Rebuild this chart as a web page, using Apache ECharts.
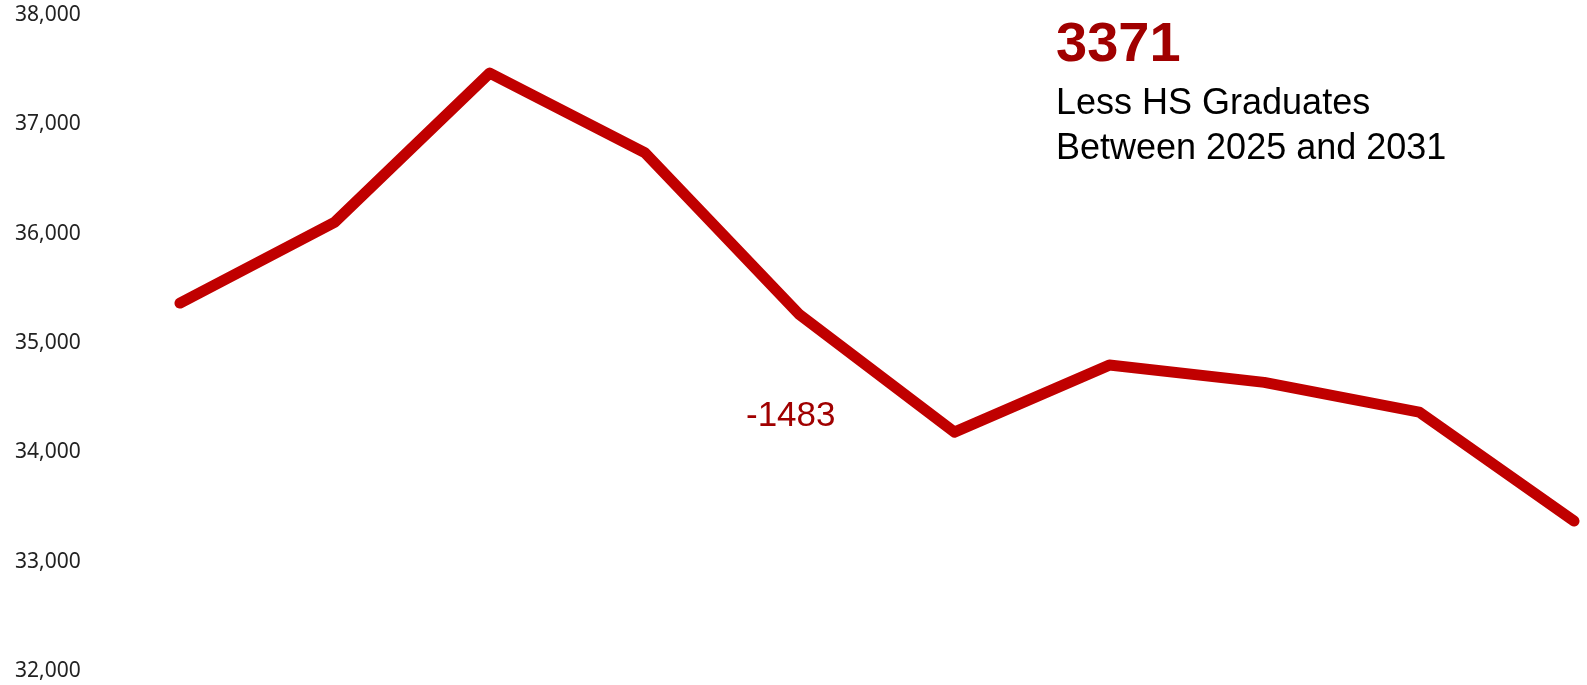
<!DOCTYPE html>
<html>
<head>
<meta charset="utf-8">
<script src="https://cdn.jsdelivr.net/npm/echarts@6/dist/echarts.min.js"></script>
<style>
html,body{margin:0;padding:0;background:#fff;}
#c{width:1587px;height:685px;}
</style>
</head>
<body>
<div id="c"></div>
<script>
const years = ['2022','2023','2024','2025','2026','2027','2028','2029','2030','2031'];
const graduates = [35365, 36106, 37469, 36742, 35259, 34185, 34798, 34640, 34368, 33371];
const yTicks = [32000, 33000, 34000, 35000, 36000, 37000, 38000];

const totalDrop = graduates[years.indexOf('2025')] - graduates[years.indexOf('2031')];
const firstDrop = graduates[years.indexOf('2026')] - graduates[years.indexOf('2025')];

const chart = echarts.init(document.getElementById('c'));
chart.setOption({
  animation: false,
  grid: {left: 180, right: 13, top: 15, bottom: 14},
  xAxis: {
    type: 'category',
    data: years,
    boundaryGap: false,
    show: false
  },
  yAxis: {
    type: 'value',
    min: yTicks[0],
    max: yTicks[yTicks.length - 1],
    interval: 1000,
    axisLine: {show: false},
    axisTick: {show: false},
    splitLine: {show: false},
    axisLabel: {
      align: 'left',
      margin: 165,
      fontFamily: 'Noto Sans',
      fontSize: 21,
      color: '#222',
      formatter: v => v.toLocaleString('en-US')
    }
  },
  series: [{
    type: 'line',
    data: graduates,
    symbol: 'none',
    lineStyle: {color: '#c00000', width: 11, cap: 'round', join: 'round'}
  }],
  graphic: [
    {type: 'text', left: 1056, top: 18, style: {text: String(totalDrop), font: 'bold 56px "Liberation Sans", Arial', fill: '#a00000'}},
    {type: 'text', left: 1056, top: 82, style: {text: 'Less HS Graduates\nBetween 2025 and 2031', font: '36px "Liberation Sans", Arial', lineHeight: 45, fill: '#000'}},
    {type: 'text', left: 746, top: 399, style: {text: String(firstDrop), font: '35px "Liberation Sans", Arial', fill: '#a00000'}}
  ]
});
</script>
</body>
</html>
